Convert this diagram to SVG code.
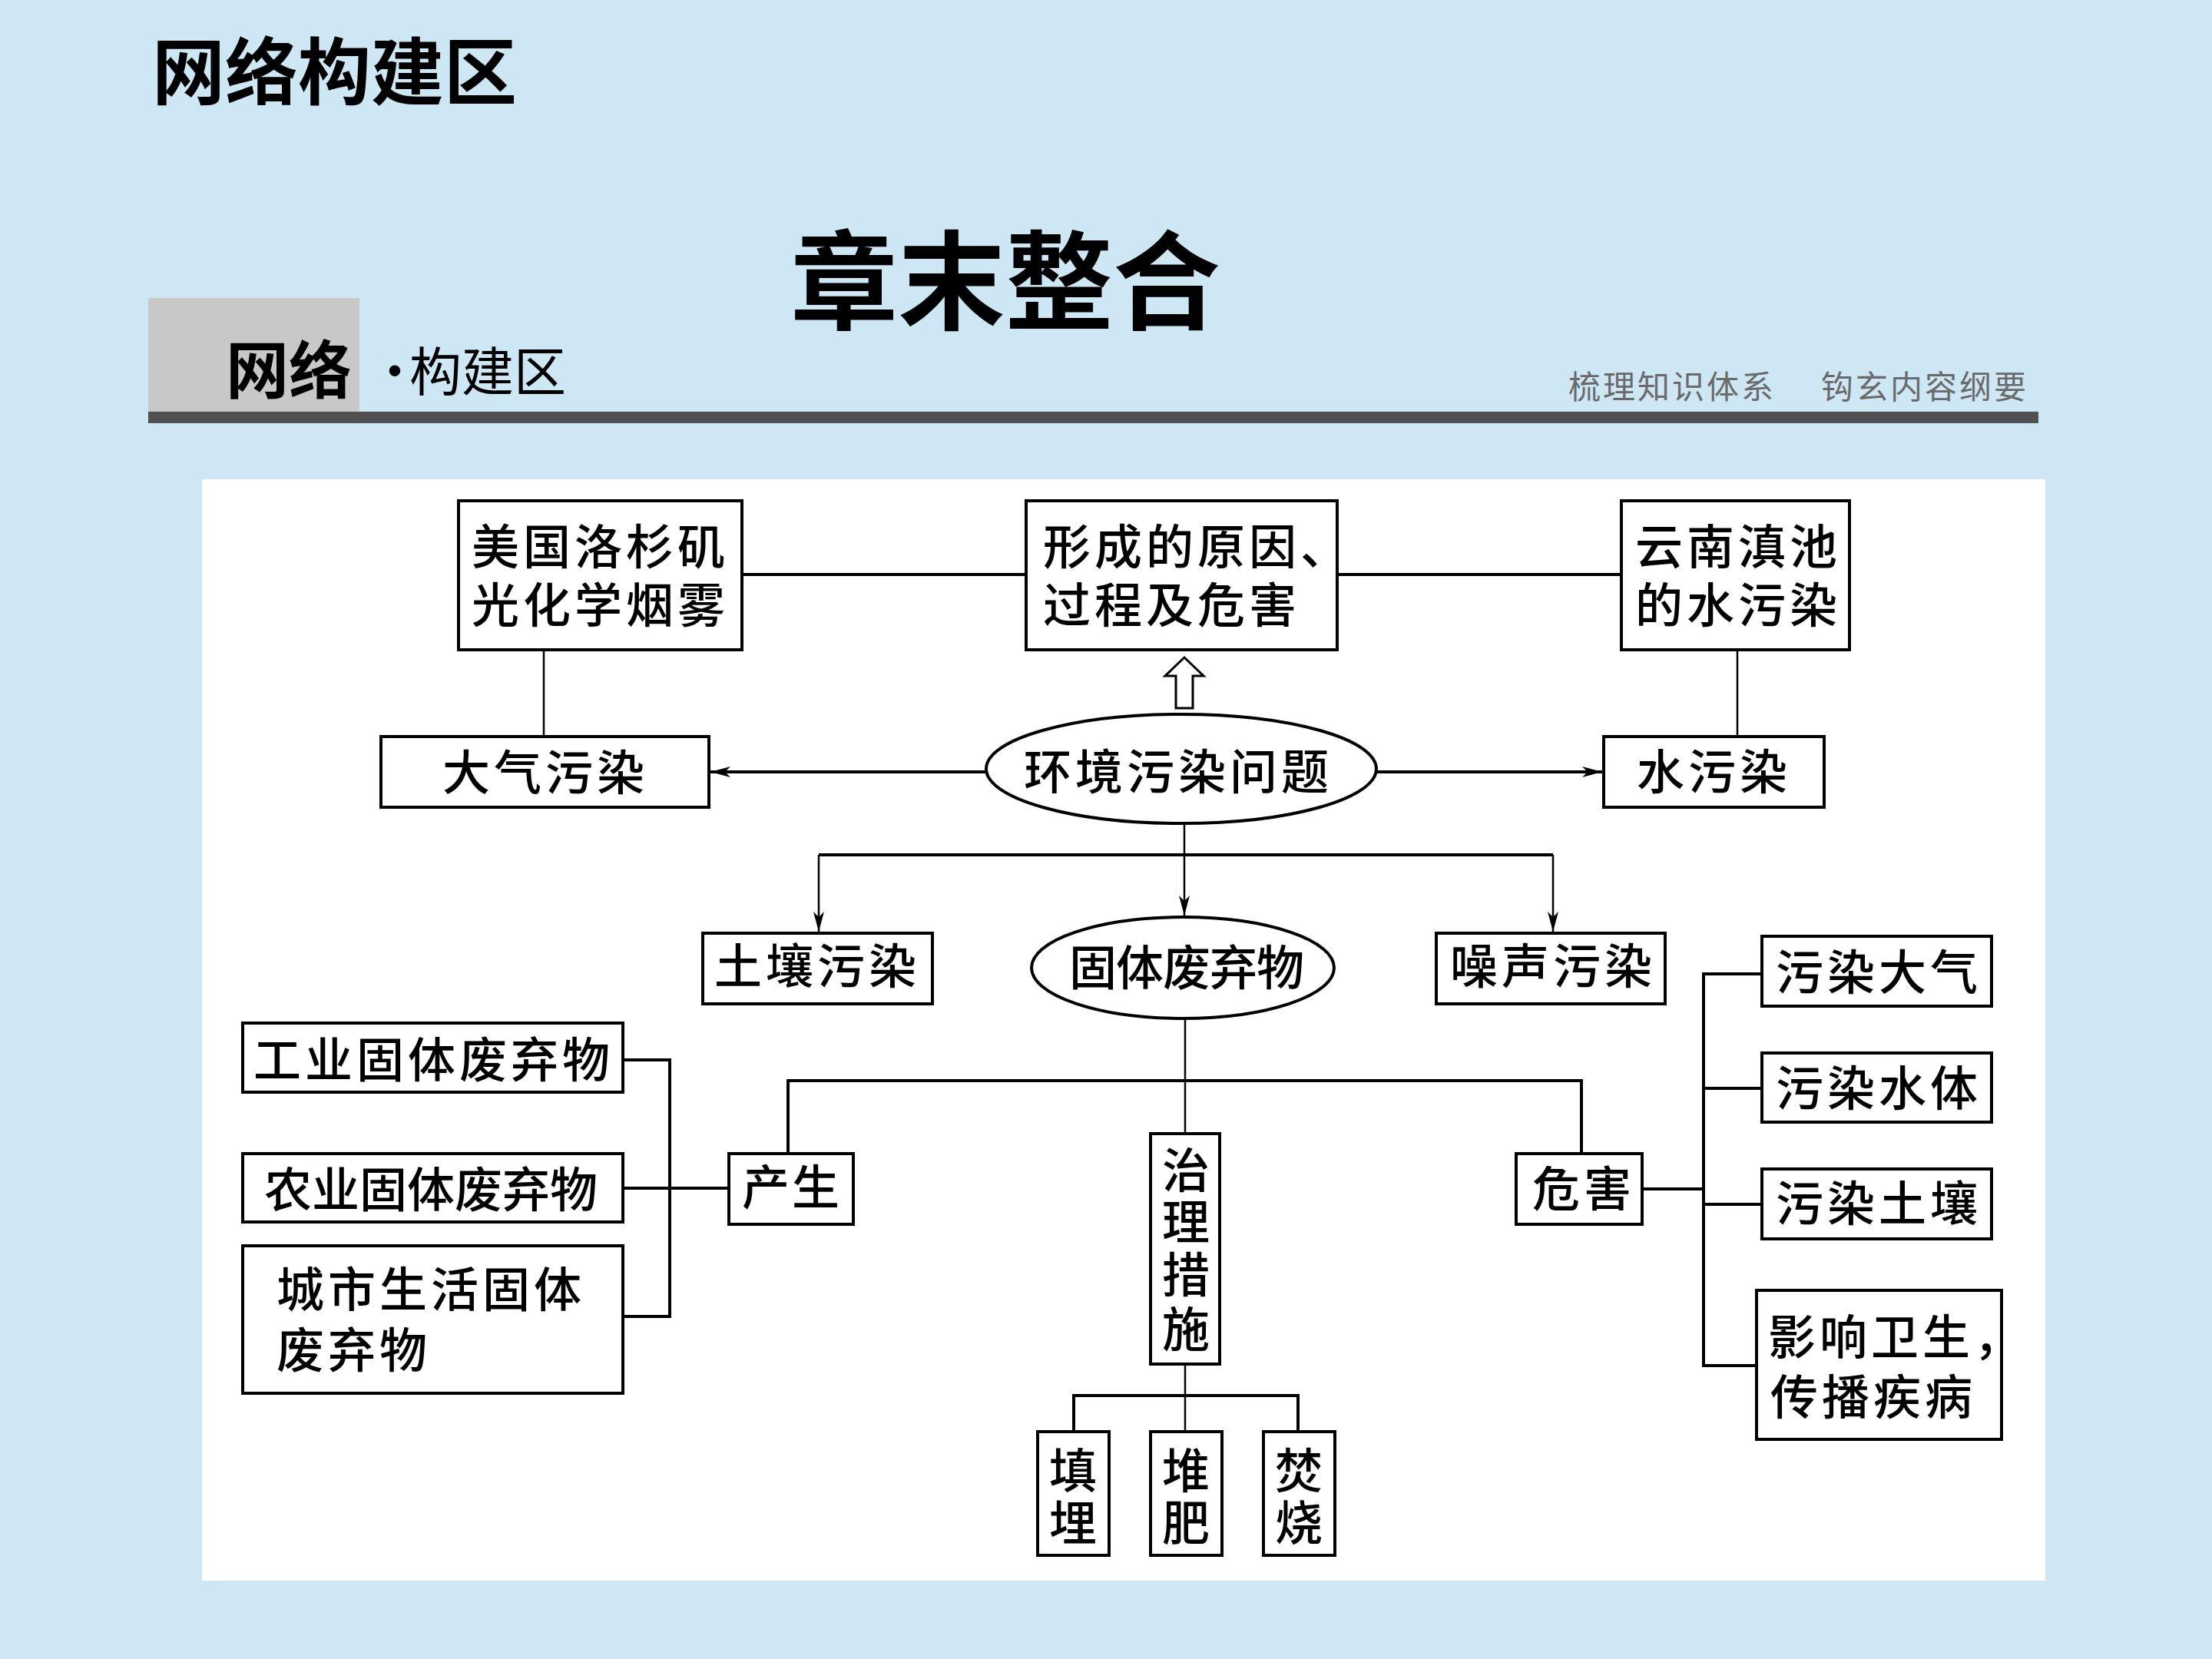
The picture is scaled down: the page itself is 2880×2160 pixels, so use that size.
<svg xmlns="http://www.w3.org/2000/svg" width="2880" height="2160" viewBox="0 0 2880 2160">
<style>
.t{font-family:"Noto Sans CJK SC","Noto Sans CJK TC",sans-serif;font-size:62px;font-weight:500;fill:#000;letter-spacing:5px}
.c{font-family:"Noto Sans CJK SC","Noto Sans CJK TC",sans-serif;font-size:62px;font-weight:500;fill:#000;text-anchor:middle}
.box{fill:#fff;stroke:#000;stroke-width:4}
.ell{fill:#fff;stroke:#000;stroke-width:4}
.thick{stroke:#000;stroke-width:4;fill:none}
.thin{stroke:#000;stroke-width:2.5;fill:none}
</style>
<defs>
<marker id="ah" markerUnits="userSpaceOnUse" viewBox="-30 -10 32 20" markerWidth="32" markerHeight="20" refX="0" refY="0" orient="auto">
<path d="M0,0 L-26,-7 L-19,0 L-26,7 Z" fill="#000"/>
</marker>
</defs>
<rect x="0" y="0" width="2880" height="2160" fill="#cde8f4"/>
<g id="header">
<text x="198" y="129" font-family="Noto Sans CJK SC,sans-serif" font-size="95" font-weight="700">网络构建区</text>
<text x="1029" y="418" font-family="Noto Sans CJK SC,sans-serif" font-size="140" font-weight="700">章末整合</text>
<rect x="193" y="388" width="275" height="150" fill="#c8c8c8"/>
<text x="294" y="512" font-family="Noto Sans CJK SC,sans-serif" font-size="82" font-weight="700">网络</text>
<text font-family="Noto Sans CJK SC,sans-serif" font-size="68" y="509"><tspan x="480">·</tspan><tspan x="533">构建区</tspan></text>
<text font-family="Noto Sans CJK SC,sans-serif" font-size="42" fill="#6a6a6a" y="519" letter-spacing="3"><tspan x="2042">梳理知识体系</tspan><tspan x="2371">钩玄内容纲要</tspan></text>
<rect x="193" y="536" width="2461" height="15" fill="#505050"/>
</g>
<rect x="263" y="624" width="2400" height="1434" fill="#fff"/>
<g id="connectors">
<line class="thick" x1="966" y1="748" x2="1336" y2="748"/>
<line class="thick" x1="1741" y1="748" x2="2111" y2="748"/>
<line class="thin" x1="708" y1="846" x2="708" y2="959"/>
<line class="thin" x1="2262" y1="846" x2="2262" y2="959"/>
<line class="thick" x1="1284" y1="1005" x2="925" y2="1005" marker-end="url(#ah)"/>
<line class="thick" x1="1792" y1="1005" x2="2086" y2="1005" marker-end="url(#ah)"/>
<polygon points="1542,856 1567,880 1553,880 1553,922 1531,922 1531,880 1517,880" fill="#fff" stroke="#000" stroke-width="3"/>
<line class="thin" x1="1542" y1="1073" x2="1542" y2="1192" marker-end="url(#ah)"/>
<line class="thick" x1="1066" y1="1113" x2="2022" y2="1113"/>
<line class="thin" x1="1066" y1="1113" x2="1066" y2="1213" marker-end="url(#ah)"/>
<line class="thin" x1="2022" y1="1113" x2="2022" y2="1213" marker-end="url(#ah)"/>
<line class="thin" x1="1543" y1="1327" x2="1543" y2="1476"/>
<polyline class="thick" points="1026,1502 1026,1407 2059,1407 2059,1502"/>
<polyline class="thick" points="811,1380 872,1380 872,1714 811,1714"/>
<line class="thick" x1="811" y1="1547" x2="949" y2="1547"/>
<polyline class="thick" points="2294,1268 2218,1268 2218,1778 2287,1778"/>
<line class="thick" x1="2218" y1="1417" x2="2294" y2="1417"/>
<line class="thick" x1="2218" y1="1568" x2="2294" y2="1568"/>
<line class="thick" x1="2138" y1="1548" x2="2218" y2="1548"/>
<line class="thin" x1="1543" y1="1776" x2="1543" y2="1864"/>
<polyline class="thick" points="1398,1864 1398,1817 1690,1817 1690,1864"/>
</g>
<g id="n-la"><rect class="box" x="597" y="652" width="369" height="194"/><text class="t" x="614" y="735">美国洛杉矶</text><text class="t" x="614" y="811">光化学烟雾</text></g>
<g id="n-cause"><rect class="box" x="1336" y="652" width="405" height="194"/><text class="t" x="1358" y="735">形成的原因、</text><text class="t" x="1358" y="811">过程及危害</text></g>
<g id="n-dian"><rect class="box" x="2111" y="652" width="297" height="194"/><text class="t" x="2129" y="735">云南滇池</text><text class="t" x="2129" y="811">的水污染</text></g>
<g id="n-air"><rect class="box" x="496" y="959" width="427" height="92"/><text class="t" x="576" y="1029">大气污染</text></g>
<g id="n-env"><ellipse class="ell" cx="1538" cy="1001" rx="254" ry="71"/><text class="t" x="1333" y="1028">环境污染问题</text></g>
<g id="n-water"><rect class="box" x="2088" y="959" width="287" height="92"/><text class="t" x="2131" y="1028">水污染</text></g>
<g id="n-soil"><rect class="box" x="915" y="1215" width="299" height="92"/><text class="t" x="930" y="1281">土壤污染</text></g>
<g id="n-solid"><ellipse class="ell" cx="1540" cy="1260" rx="197" ry="66"/><text class="t" x="1392" y="1283" style="letter-spacing:-1px">固体废弃物</text></g>
<g id="n-noise"><rect class="box" x="1870" y="1215" width="298" height="92"/><text class="t" x="1888" y="1281">噪声污染</text></g>
<g id="n-h1"><rect class="box" x="2294" y="1219" width="299" height="91"/><text class="t" x="2312" y="1289">污染大气</text></g>
<g id="n-ind"><rect class="box" x="316" y="1332" width="495" height="90"/><text class="t" x="330" y="1403">工业固体废弃物</text></g>
<g id="n-agr"><rect class="box" x="316" y="1502" width="495" height="89"/><text class="t" x="344" y="1572" style="letter-spacing:0px">农业固体废弃物</text></g>
<g id="n-city"><rect class="box" x="316" y="1622" width="495" height="192"/><text class="t" x="360" y="1702">城市生活固体</text><text class="t" x="360" y="1781">废弃物</text></g>
<g id="n-prod"><rect class="box" x="949" y="1502" width="162" height="92"/><text class="t" x="966" y="1569" style="letter-spacing:3px">产生</text></g>
<g id="n-treat"><rect class="box" x="1498" y="1476" width="90" height="300"/><text class="c"><tspan x="1544" y="1547">治</tspan><tspan x="1544" y="1614">理</tspan><tspan x="1544" y="1683">措</tspan><tspan x="1544" y="1754">施</tspan></text></g>
<g id="n-harm"><rect class="box" x="1974" y="1502" width="164" height="92"/><text class="t" x="1995" y="1571">危害</text></g>
<g id="n-h2"><rect class="box" x="2294" y="1371" width="299" height="90"/><text class="t" x="2312" y="1440">污染水体</text></g>
<g id="n-h3"><rect class="box" x="2294" y="1522" width="299" height="91"/><text class="t" x="2312" y="1590">污染土壤</text></g>
<g id="n-h4"><rect class="box" x="2287" y="1680" width="319" height="194"/><text class="t" x="2302" y="1764">影响卫生，</text><text class="t" x="2305" y="1842">传播疾病</text></g>
<g id="n-fill"><rect class="box" x="1351" y="1864" width="93" height="161"/><text class="c"><tspan x="1397" y="1938">填</tspan><tspan x="1397" y="2006">埋</tspan></text></g>
<g id="n-comp"><rect class="box" x="1498" y="1864" width="93" height="161"/><text class="c"><tspan x="1544" y="1938">堆</tspan><tspan x="1544" y="2006">肥</tspan></text></g>
<g id="n-burn"><rect class="box" x="1645" y="1864" width="93" height="161"/><text class="c"><tspan x="1691" y="1938">焚</tspan><tspan x="1691" y="2006">烧</tspan></text></g>
</svg>
